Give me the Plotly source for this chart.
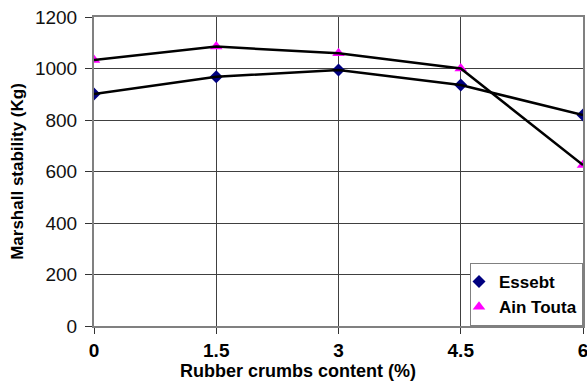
import plotly.graph_objects as go

content = [0, 1.5, 3, 4.5, 6]
essebt = [901, 968, 994, 936, 819]
ain_touta = [1033, 1085, 1059, 1000, 625]
x_ticks = [0, 1.5, 3, 4.5, 6]
x_tick_labels = ["0", "1.5", "3", "4.5", "6"]
y_ticks = [0, 200, 400, 600, 800, 1000, 1200]
x_title = "Rubber crumbs content (%)"
y_title = "Marshall stability (Kg)"

fig = go.Figure()
fig.add_trace(go.Scatter(x=content, y=essebt, mode="markers", name="Essebt",
                         marker=dict(symbol="diamond", size=10, color="#000080")))
fig.add_trace(go.Scatter(x=content, y=ain_touta, mode="markers", name="Ain Touta",
                         marker=dict(symbol="triangle-up", size=11, color="#ff00ff")))
fig.add_trace(go.Scatter(x=content, y=essebt, mode="lines", showlegend=False,
                         line=dict(color="black", width=2.5)))
fig.add_trace(go.Scatter(x=content, y=ain_touta, mode="lines", showlegend=False,
                         line=dict(color="black", width=2.5)))

fig.add_annotation(text=x_title, xref="paper", yref="paper", x=0.417, y=0,
                   xanchor="center", yanchor="top", yshift=-33, showarrow=False,
                   font=dict(size=18, weight="bold", color="black",
                             family="Liberation Sans, Arial"))

fig.update_layout(
    width=587, height=385,
    margin=dict(l=94, r=4, t=17, b=59, autoexpand=False),
    paper_bgcolor="white", plot_bgcolor="white",
    font=dict(family="Liberation Sans, Arial", color="black"),
    showlegend=True,
    legend=dict(x=1, xanchor="right", y=0, yanchor="bottom",
                bgcolor="white", bordercolor="#808080", borderwidth=1,
                font=dict(size=17, family="Liberation Sans, Arial", color="black", weight="bold"),
                tracegroupgap=0, itemwidth=30, indentation=-12),
    xaxis=dict(range=[0, 6], tickvals=x_ticks, ticktext=x_tick_labels,
               automargin=False, ticklabeloverflow="allow",
               showgrid=True, gridcolor="#404040", gridwidth=1,
               ticks="outside", ticklen=6, tickcolor="#333",
               tickfont=dict(size=19, weight="bold", color="black"),
               showline=True, linecolor="#808080", linewidth=2, mirror=True,
               zeroline=False),
    yaxis=dict(range=[0, 1200], tickvals=y_ticks,
               automargin=False, ticklabelstandoff=4,
               showgrid=True, gridcolor="#404040", gridwidth=1,
               ticks="outside", ticklen=7, tickcolor="#333",
               tickfont=dict(size=19, color="#111"),
               showline=True, linecolor="#808080", linewidth=2, mirror=True,
               zeroline=False,
               title=dict(text=y_title, standoff=7,
                          font=dict(size=17, weight="bold", color="black"))),
)
fig.write_html("out.html", config={"displayModeBar": False},
               post_script="document.body.style.margin='0';")
